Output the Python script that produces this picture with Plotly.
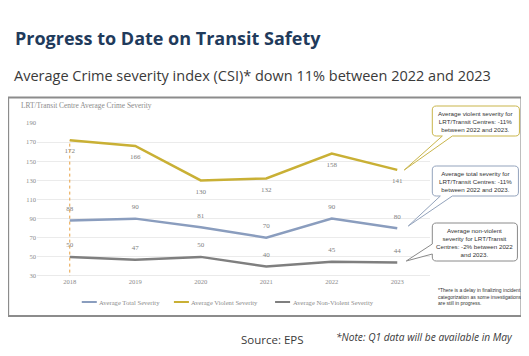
import plotly.graph_objects as go

years = [2018, 2019, 2020, 2021, 2022, 2023]
total = [88, 90, 81, 70, 90, 80]
violent = [172, 166, 130, 132, 158, 141]
nonviolent = [50, 47, 50, 40, 45, 44]
yticks = [30, 50, 70, 90, 110, 130, 150, 170, 190]

# page body has an 8px default margin; compensate
OX, OY = 8, 8
W, H = 529 - OX, 356 - OY
PL, PR, PT, PB = 37.3, 429.7, 123, 276   # plot area in reference pixels
L, R, T, B = PL - OX, W - (PR - OX), PT - OY, H - (PB - OY)
PW, PH = PR - PL, PB - PT

def fx(x):
    return (x - PL) / PW

def fy(y):
    return (PB - y) / PH

C_TOT = "#8A9DBE"
C_VIO = "#C9B035"
C_NON = "#7F7F7F"
SERIF = "Liberation Serif, DejaVu Serif, serif"
SANS = "Liberation Sans, Arial, sans-serif"
LBL = dict(family=SERIF, size=7, color="#808080")
MK = dict(size=11, opacity=0)

fig = go.Figure()
fig.add_trace(go.Scatter(x=years, y=total, mode="lines+markers+text", text=[str(v) for v in total],
                         textposition="top center", textfont=LBL, marker=MK,
                         line=dict(color=C_TOT, width=2.5), showlegend=False))
fig.add_trace(go.Scatter(x=years, y=violent, mode="lines+markers+text", text=[str(v) for v in violent],
                         textposition="bottom center", textfont=LBL, marker=MK,
                         line=dict(color=C_VIO, width=2.5), showlegend=False))
fig.add_trace(go.Scatter(x=years, y=nonviolent, mode="lines+markers+text", text=[str(v) for v in nonviolent],
                         textposition="top center", textfont=LBL, marker=MK,
                         line=dict(color=C_NON, width=2.5), showlegend=False))

shapes = []
annotations = []

# outer frame
shapes.append(dict(type="rect", xref="paper", yref="paper", x0=fx(8.5), x1=fx(521), y0=fy(316), y1=fy(97.5),
                   line=dict(color="#8C8C8C", width=2), fillcolor="rgba(0,0,0,0)", layer="below"))

# vertical dashed marker at first year
shapes.append(dict(type="line", xref="x", yref="y", x0=years[0], x1=years[0], y0=21, y1=violent[0],
                   line=dict(color="#E8A040", width=1, dash="dot")))

def bubble(x0, y0, x1, y1, r, side, b0, b1, tip):
    p = f"M {fx(x0 + r)},{fy(y0)} L {fx(x1 - r)},{fy(y0)} Q {fx(x1)},{fy(y0)} {fx(x1)},{fy(y0 + r)} "
    p += f"L {fx(x1)},{fy(y1 - r)} Q {fx(x1)},{fy(y1)} {fx(x1 - r)},{fy(y1)} "
    if side == "bottom":
        p += f"L {fx(b1)},{fy(y1)} L {fx(tip[0])},{fy(tip[1])} L {fx(b0)},{fy(y1)} "
    p += f"L {fx(x0 + r)},{fy(y1)} Q {fx(x0)},{fy(y1)} {fx(x0)},{fy(y1 - r)} "
    if side == "left":
        p += f"L {fx(x0)},{fy(b1)} L {fx(tip[0])},{fy(tip[1])} L {fx(x0)},{fy(b0)} "
    p += f"L {fx(x0)},{fy(y0 + r)} Q {fx(x0)},{fy(y0)} {fx(x0 + r)},{fy(y0)} Z"
    return p

callouts = [
    (432, 106, 519, 136, "bottom", 442, 452, (404, 170), "#C9B54A",
     "Average violent severity for<br>LRT/Transit Centres: -11%<br>between 2022 and 2023."),
    (432, 166, 518, 196, "bottom", 440, 452, (408, 226), "#93A3BC",
     "Average total severity for<br>LRT/Transit Centres: -11%<br>between 2022 and 2023."),
    (432, 223, 517, 261, "left", 244, 254, (406, 261), "#8A8A8A",
     "Average non-violent<br>severity for LRT/Transit<br>Centres: -2% between 2022<br>and 2023."),
]
for (x0, y0, x1, y1, side, b0, b1, tip, col, txt) in callouts:
    shapes.append(dict(type="path", xref="paper", yref="paper", path=bubble(x0, y0, x1, y1, 4, side, b0, b1, tip),
                       line=dict(color=col, width=1), fillcolor="white"))
    annotations.append(dict(xref="paper", yref="paper", x=fx((x0 + x1) / 2), y=fy((y0 + y1) / 2),
                            text=txt, showarrow=False, xanchor="center", yanchor="middle", align="center",
                            font=dict(family=SANS, size=6.2, color="#333333")))

# footnote
annotations.append(dict(xref="paper", yref="paper", x=fx(436), y=fy(296), text=
                        "*There is a delay in finalizing incident<br>categorization as some investigations<br>are still in progress.",
                        showarrow=False, xanchor="left", yanchor="middle", align="left",
                        font=dict(family=SANS, size=5, color="#333333")))

# inner chart title
annotations.append(dict(xref="paper", yref="paper", x=fx(19), y=fy(105), text="LRT/Transit Centre Average Crime Severity",
                        showarrow=False, xanchor="left", yanchor="middle",
                        font=dict(family=SERIF, size=7.4, color="#8C8C8C")))

# legend (manual)
leg = [(82, C_TOT, "Average Total Severity"), (174, C_VIO, "Average Violent Severity"),
       (275, C_NON, "Average Non-Violent Severity")]
for x, col, name in leg:
    shapes.append(dict(type="line", xref="paper", yref="paper", x0=fx(x), x1=fx(x + 15), y0=fy(302), y1=fy(302),
                       line=dict(color=col, width=2)))
    annotations.append(dict(xref="paper", yref="paper", x=fx(x + 15.5), y=fy(302), text=name, showarrow=False,
                            xanchor="left", yanchor="middle", font=dict(family=SERIF, size=6.6, color="#8C8C8C")))

# headings
annotations.append(dict(xref="paper", yref="paper", x=fx(13), y=fy(38), text="<b>Progress to Date on Transit Safety</b>",
                        showarrow=False, xanchor="left", yanchor="middle",
                        font=dict(family="Open Sans, sans-serif", size=18, color="#1F3B5C")))
annotations.append(dict(xref="paper", yref="paper", x=fx(12), y=fy(75),
                        text="Average Crime severity index (CSI)* down 11% between 2022 and 2023",
                        showarrow=False, xanchor="left", yanchor="middle",
                        font=dict(family="Open Sans, sans-serif", size=14.5, color="#3A3A3A")))
annotations.append(dict(xref="paper", yref="paper", x=fx(239), y=fy(339), text="Source: EPS",
                        showarrow=False, xanchor="left", yanchor="middle",
                        font=dict(family="Open Sans, sans-serif", size=11.5, color="#3A3A3A")))
annotations.append(dict(xref="paper", yref="paper", x=fx(334), y=fy(337), text="<i>*Note: Q1 data will be available in May</i>",
                        showarrow=False, xanchor="left", yanchor="middle",
                        font=dict(family="Open Sans, sans-serif", size=10.2, color="#3A3A3A")))

fig.update_layout(
    width=W, height=H, margin=dict(l=L, r=R, t=T, b=B),
    paper_bgcolor="white", plot_bgcolor="white",
    shapes=shapes, annotations=annotations, showlegend=False,
    xaxis=dict(range=[years[0] - 0.5, years[-1] + 0.5], tickvals=years, ticktext=[str(y) for y in years],
               showgrid=False, zeroline=False, showline=False, ticks="",
               tickfont=dict(family=SERIF, size=6.6, color="#8C8C8C")),
    yaxis=dict(range=[yticks[0], yticks[-1]], tickvals=yticks, showgrid=True, gridcolor="#EBEBEB", gridwidth=1,
               zeroline=False, showline=False, ticks="",
               tickfont=dict(family=SERIF, size=6.6, color="#8C8C8C")),
)
fig.add_hline(y=yticks[0], line=dict(color="#D4D4D4", width=1))

fig.write_html("out.html")
